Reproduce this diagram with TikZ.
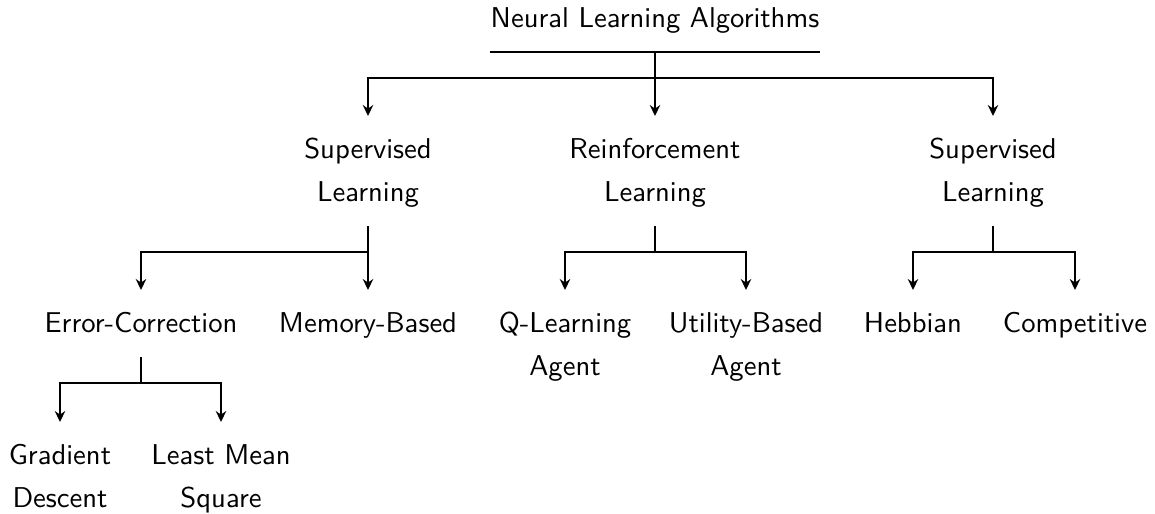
\documentclass[tikz,border=0pt]{standalone}
\usetikzlibrary{arrows.meta}
\begin{document}
\begin{tikzpicture}[
  x=0.349pt, y=-0.349pt,
  label/.style={font=\sffamily\fontsize{10}{15}\selectfont, align=center,
    inner xsep=0pt, inner ysep=4pt,
    execute at begin node=\strut, execute at end node=\strut},
  child/.style={label, anchor=north},
  branch/.style={line width=0.75pt, -{Stealth[length=3.8pt,width=3.6pt,inset=1.2pt]}},
  stem/.style={line width=0.75pt}
]
\useasboundingbox (0,0) rectangle (1155,513);

% root with its rule
\node[label, anchor=south] (root) at (655,52) {Neural Learning Algorithms};
\draw[stem] (root.south west) -- (root.south east);

% first level
\node[child] (sup)  at (368,116) {\strut Supervised\\Learning};
\node[child] (rein) at (655,116) {\strut Reinforcement\\Learning};
\node[child] (uns)  at (993,116) {\strut Supervised\\Learning};

% second level
\node[child] (err) at (141,290) {Error-Correction};
\node[child] (mem) at (368,290) {Memory-Based};
\node[child] (ql)  at (565,290) {\strut Q-Learning\\Agent};
\node[child] (ut)  at (746,290) {\strut Utility-Based\\Agent};
\node[child] (heb) at (913,290) {Hebbian};
\node[child] (com) at (1075,290) {Competitive};

% third level
\node[child] (gd)  at (60,422)  {\strut Gradient\\Descent};
\node[child] (lms) at (221,422) {\strut Least Mean\\Square};

% connectors: a short stem below each parent, then one elbow to each child
\foreach \p/\c in {root/sup, root/rein, root/uns,
                   sup/err, sup/mem, rein/ql, rein/ut, uns/heb, uns/com,
                   err/gd, err/lms}
  \draw[branch] (\p.south) -- ++(0,26) -| (\c.north);
\end{tikzpicture}
\end{document}
